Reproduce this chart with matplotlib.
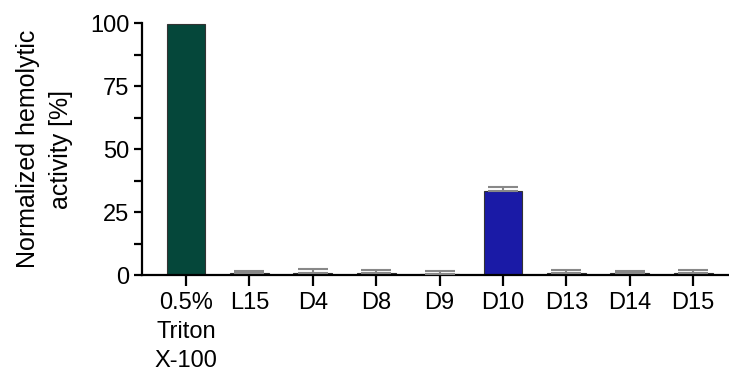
import matplotlib
matplotlib.use("Agg")
import matplotlib.pyplot as plt
from matplotlib.ticker import MultipleLocator

plt.rcParams["font.family"] = ["Liberation Sans", "DejaVu Sans"]

labels = ["0.5%\nTriton\nX-100", "L15", "D4", "D8", "D9", "D10", "D13", "D14", "D15"]
activity = [99.5, 0.6, 0.8, 0.6, 0.5, 33.5, 0.8, 0.6, 0.6]
errors = [0.0, 1.1, 1.7, 1.4, 1.1, 1.5, 1.3, 1.0, 1.2]
colors = ["#05473a", "#555555", "#5a1a5a", "#333333", "#333333",
          "#1a1aa6", "#1f5a4a", "#333333", "#333333"]

fig = plt.figure(figsize=(7.29, 3.74), dpi=100)
ax = fig.add_axes([0.1948, 0.2647, 0.8052, 0.6738])

x = list(range(len(labels)))
ax.bar(x, activity, width=0.61, color=colors, edgecolor="#333333", linewidth=0.8, zorder=2)

# upward-only error bars; the Triton control has none
ex = [xi for xi, e in zip(x, errors) if e > 0]
ey = [a for a, e in zip(activity, errors) if e > 0]
ee = [e for e in errors if e > 0]
ax.errorbar(ex, ey, yerr=[[0] * len(ee), ee], fmt="none",
            ecolor="#888888", elinewidth=1.5, capsize=10.5, capthick=1.5, zorder=3)

ax.set_xlim(-0.694, 8.565)
ax.set_ylim(0, 100)
ax.yaxis.set_major_locator(MultipleLocator(25))
ax.yaxis.set_minor_locator(MultipleLocator(12.5))
ax.set_xticks(x)
ax.set_xticklabels(labels, fontsize=17, linespacing=1.42, va="top")
ax.tick_params(axis="y", labelsize=17)

for side in ["top", "right"]:
    ax.spines[side].set_visible(False)
for side in ["left", "bottom"]:
    ax.spines[side].set_linewidth(1.6)

ax.tick_params(axis="both", which="both", direction="out", width=1.6, length=6, color="black")
ax.tick_params(axis="x", length=8, pad=4)
ax.tick_params(axis="y", pad=3)

ax.set_ylabel("Normalized hemolytic\nactivity [%]", fontsize=18, linespacing=1.5, labelpad=12)

fig.savefig("out.png", dpi=100)
